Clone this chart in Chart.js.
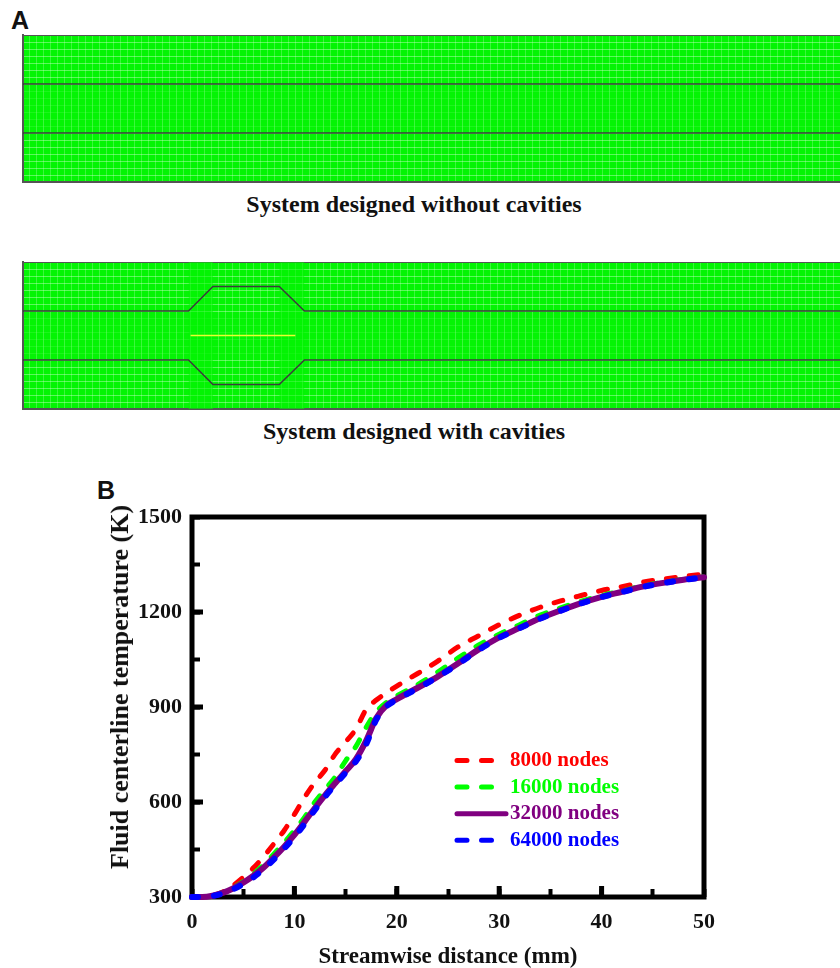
<!DOCTYPE html>
<html>
<head>
<meta charset="utf-8">
<script src="https://cdn.jsdelivr.net/npm/chart.js@4/dist/chart.umd.min.js"></script>
<style>
    html, body { margin: 0; padding: 0; background: #fff; }
    body { position: relative; width: 840px; height: 968px; overflow: hidden; }
    canvas { position: absolute; }
    .panel { position: absolute; font: bold 25px "Liberation Sans", sans-serif; color: #111; line-height: 25px; }
    .caption { position: absolute; left: 0; width: 828px; text-align: center; font: bold 24px "Liberation Serif", serif; color: #111; }
    .yTitle { position: absolute; left: 120px; top: 687px; white-space: nowrap; transform: translate(-50%, -50%) rotate(-90deg); font: bold 26px "Liberation Serif", serif; color: #111; }
</style>
</head>
<body>
<div class="panel" style="left:11px;top:8px">A</div>
<canvas id="meshPlain" width="818" height="160" style="left:22px;top:30px"></canvas>
<div class="caption" style="top:191px">System designed without cavities</div>
<canvas id="meshCavity" width="818" height="160" style="left:22px;top:257px"></canvas>
<div class="caption" style="top:418px">System designed with cavities</div>
<div class="panel" style="left:97px;top:478px">B</div>
<canvas id="tempChart" width="840" height="498" style="left:0;top:470px"></canvas>
<div class="yTitle">Fluid centerline temperature (K)</div>
<script>
// panel B values
const distance = [0, 1, 2, 3, 4, 5, 6, 7, 8, 9, 10, 11, 12, 13, 14, 15, 16, 17, 18, 19, 20, 22, 24, 26, 28, 30, 32, 34, 36, 38, 40, 42, 44, 46, 48, 50];
const nodes8000 = [300, 300, 305, 316, 336, 362, 392, 428, 468, 510, 561, 615, 662, 701, 752, 790, 830, 892, 922, 945, 966, 1005, 1045, 1090, 1125, 1160, 1190, 1215, 1235, 1252, 1268, 1280, 1294, 1304, 1312, 1320];
const nodes16000 = [300, 300, 304, 314, 329, 349, 373, 402, 436, 472, 510, 552, 600, 640, 680, 730, 775, 835, 885, 915, 935, 970, 1010, 1055, 1096, 1130, 1160, 1190, 1213, 1234, 1252, 1267, 1282, 1294, 1303, 1311];
const nodes32000 = [300, 300, 304, 313, 327, 345, 367, 393, 425, 459, 496, 538, 581, 622, 660, 697, 735, 793, 865, 905, 925, 960, 996, 1038, 1082, 1120, 1150, 1180, 1205, 1228, 1248, 1264, 1280, 1292, 1302, 1310];
const nodes64000 = [300, 300, 303, 311, 324, 341, 362, 388, 419, 453, 489, 531, 575, 617, 655, 692, 728, 782, 860, 902, 923, 958, 995, 1036, 1080, 1118, 1149, 1179, 1204, 1227, 1247, 1263, 1279, 1291, 1301, 1309];
const seriesNames = ['8000 nodes', '16000 nodes', '32000 nodes', '64000 nodes'];
const seriesColors = ['#ff0000', '#00ff00', '#800080', '#0000ff'];

// panel A geometry, in mesh cells
const channelX = [0, 117];
const plainUpperWall = [14, 14];
const plainLowerWall = [7, 7];
const cavityX = [0, 23.7, 27.2, 36.7, 40.3, 117];
const cavityUpperWall = [14, 14, 17.5, 17.5, 14, 14];
const cavityLowerWall = [7, 7, 3.5, 3.5, 7, 7];
const centerlineX = [24, 39];
const centerlineY = [10.5, 10.5];
const denseLeftX = [23.7, 27.2];
const denseRightX = [36.7, 40.3];
const denseY = [21, 21];

const serif = '"Liberation Serif", serif';

function toPoints(xs, ys) {
    return xs.map((x, i) => ({ x: x, y: ys[i] }));
}

function wall(xs, ys) {
    return { data: toPoints(xs, ys), borderColor: '#3c3c3c', borderWidth: 1.5, pointRadius: 0, tension: 0 };
}

function denseBlock(xs) {
    return { data: toPoints(xs, denseY), borderWidth: 0, pointRadius: 0, fill: 'origin', backgroundColor: 'rgba(4,244,4,0.55)', order: 5 };
}

function meshChart(elementId, datasets) {
    return new Chart(document.getElementById(elementId), {
        type: 'line',
        data: { datasets: datasets },
        options: {
            responsive: false,
            animation: false,
            layout: { padding: { top: 5, left: 1 } },
            plugins: { legend: { display: false }, tooltip: { enabled: false } },
            scales: {
                x: {
                    type: 'linear', min: 0, max: 117,
                    afterFit: (s) => { s.height = 8; },
                    ticks: { stepSize: 1, display: false, autoSkip: false },
                    border: { color: '#555', width: 2 },
                    grid: { drawTicks: false, color: 'rgba(190,255,190,0.3)' }
                },
                y: {
                    type: 'linear', min: 0, max: 21,
                    afterFit: (s) => { s.width = 0; },
                    ticks: { stepSize: 1, display: false, autoSkip: false },
                    border: { color: '#555', width: 2 },
                    grid: {
                        drawTicks: false,
                        color: (c) => {
                            if (c.tick.value === 21) return '#555';
                            return (c.tick.value > 7 && c.tick.value < 14) ? 'rgba(120,255,120,0.2)' : 'rgba(215,255,215,0.42)';
                        }
                    }
                }
            }
        },
        plugins: [{
            id: 'meshBackground',
            beforeDraw(chart) {
                const a = chart.chartArea;
                chart.ctx.fillStyle = '#04f404';
                chart.ctx.fillRect(a.left, a.top, a.width, a.height);
            }
        }]
    });
}

meshChart('meshPlain', [wall(channelX, plainUpperWall), wall(channelX, plainLowerWall)]);
meshChart('meshCavity', [
    wall(cavityX, cavityUpperWall),
    wall(cavityX, cavityLowerWall),
    { data: toPoints(centerlineX, centerlineY), borderColor: '#eaff30', borderWidth: 1.5, pointRadius: 0 },
    denseBlock(denseLeftX),
    denseBlock(denseRightX)
]);

// frame, longer major ticks and the legend
const framePlugin = {
    id: 'frame',
    beforeDatasetsDraw(chart) {
        const ctx = chart.ctx;
        const a = chart.chartArea;
        const sx = chart.scales.x;
        const sy = chart.scales.y;
        ctx.save();
        ctx.strokeStyle = '#000';
        ctx.lineWidth = 5;
        ctx.strokeRect(a.left, a.top, a.width, a.height);
        ctx.beginPath();
        for (const v of [10, 20, 30, 40]) {
            const px = sx.getPixelForValue(v);
            ctx.moveTo(px, a.bottom);
            ctx.lineTo(px, a.bottom - 11);
        }
        for (const v of [600, 900, 1200]) {
            const py = sy.getPixelForValue(v);
            ctx.moveTo(a.left, py);
            ctx.lineTo(a.left + 11, py);
        }
        ctx.stroke();
        ctx.restore();
    }
};

const legendPlugin = {
    id: 'nodeLegend',
    afterDraw(chart) {
        const ctx = chart.ctx;
        ctx.save();
        ctx.font = 'bold 21px ' + serif;
        ctx.textBaseline = 'middle';
        ctx.lineCap = 'round';
        seriesNames.forEach((name, i) => {
            const y = 290.5 + i * 26.6;
            ctx.strokeStyle = seriesColors[i];
            ctx.lineWidth = 5;
            ctx.setLineDash(i === 2 ? [] : [10, 14.5]);
            ctx.beginPath();
            ctx.moveTo(457, y);
            ctx.lineTo(i === 2 ? 506 : 493, y);
            ctx.stroke();
            ctx.fillStyle = seriesColors[i];
            ctx.fillText(name, 510, y);
        });
        ctx.restore();
    }
};

function curve(values, i, order, dash, width) {
    return {
        label: seriesNames[i],
        data: toPoints(distance, values),
        borderColor: seriesColors[i],
        borderWidth: width,
        borderDash: dash,
        borderCapStyle: 'round',
        pointRadius: 0,
        cubicInterpolationMode: 'monotone',
        clip: false,
        order: order
    };
}

new Chart(document.getElementById('tempChart'), {
    type: 'line',
    data: {
        datasets: [
            curve(nodes8000, 0, 4, [9, 14], 5),
            curve(nodes16000, 1, 3, [9, 14], 5),
            curve(nodes32000, 2, 2, [], 6),
            curve(nodes64000, 3, 1, [6, 16], 6)
        ]
    },
    options: {
        responsive: false,
        animation: false,
        layout: { padding: { top: 47, right: 136 } },
        plugins: { legend: { display: false }, tooltip: { enabled: false } },
        scales: {
            x: {
                type: 'linear', min: 0, max: 50,
                afterFit: (s) => { s.height = 71; },
                border: { display: false },
                grid: { drawOnChartArea: false, tickLength: -8, tickColor: '#000', tickWidth: 4 },
                ticks: {
                    stepSize: 5, autoSkip: false, maxRotation: 0, padding: 20,
                    color: '#111', font: { family: serif, weight: 'bold', size: 22 },
                    callback: (v) => (v % 10 === 0 ? v : '')
                },
                title: {
                    display: true, text: 'Streamwise distance (mm)', color: '#111',
                    font: { family: serif, weight: 'bold', size: 23 }, padding: { top: 0, bottom: -3 }
                }
            },
            y: {
                type: 'linear', min: 300, max: 1500,
                afterFit: (s) => { s.width = 192; },
                border: { display: false },
                grid: { drawOnChartArea: false, tickLength: -8, tickColor: '#000', tickWidth: 4 },
                ticks: {
                    stepSize: 150, autoSkip: false, padding: 18,
                    color: '#111', font: { family: serif, weight: 'bold', size: 22 },
                    callback: (v) => (v % 300 === 0 ? v : '')
                }
            }
        }
    },
    plugins: [framePlugin, legendPlugin]
});
</script>
</body>
</html>
